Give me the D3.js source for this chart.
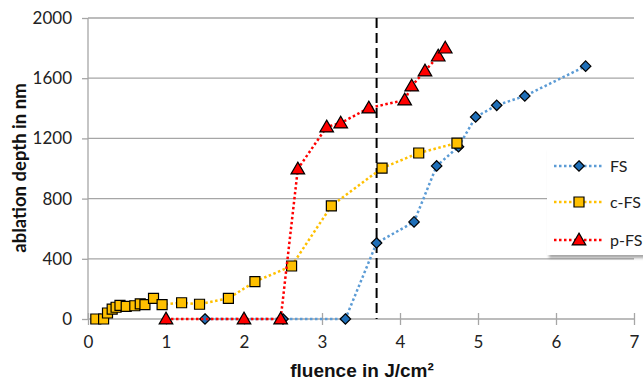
<!DOCTYPE html>
<html>
<head>
<meta charset="utf-8">
<script src="https://cdn.jsdelivr.net/npm/d3@7"></script>
<style>
  body { margin: 0; background: #fff; }
  svg { display: block; }
  .tick text { font-family: Lato, "Open Sans", sans-serif; font-size: 17px; fill: #222; }
  .x-title { font-family: "Liberation Sans", Arial, sans-serif; font-weight: bold; font-size: 19px; fill: #111; }
  .y-title { font-family: Lato, "Open Sans", sans-serif; font-weight: bold; font-size: 18.5px; fill: #111; }
  .legend text { font-family: Lato, "Open Sans", sans-serif; font-size: 16px; fill: #222; }
</style>
</head>
<body>
<div id="chart"></div>
<script>
// FS
const fsX = [1.5, 2.5, 3.3, 3.7, 4.18, 4.47, 4.75, 4.97, 5.24, 5.6, 6.38];
const fsY = [0, 0, 0, 505, 645, 1017, 1145, 1342, 1420, 1482, 1680];
// c-FS
const cfsX = [0.1, 0.2, 0.25, 0.31, 0.36, 0.41, 0.49, 0.6, 0.67, 0.73, 0.84, 0.95, 1.2, 1.43, 1.8, 2.14, 2.61, 3.12, 3.77, 4.24, 4.73];
const cfsY = [0, 0, 40, 66, 78, 91, 84, 88, 101, 95, 137, 95, 108, 98, 137, 248, 352, 751, 1003, 1103, 1169];
// p-FS
const pfsX = [1.0, 2.0, 2.47, 2.69, 3.06, 3.24, 3.6, 4.06, 4.15, 4.32, 4.49, 4.58];
const pfsY = [0, 0, 0, 997, 1276, 1302, 1402, 1455, 1548, 1648, 1747, 1800];

const xTicks = [0, 1, 2, 3, 4, 5, 6, 7];
const yTicks = [0, 400, 800, 1200, 1600, 2000];
const thresholdX = 3.7;

const seriesList = [
  { name: 'FS', xs: fsX, ys: fsY, line: '#5b9bd5', fill: '#1f6fb8', shape: 'diamond' },
  { name: 'c-FS', xs: cfsX, ys: cfsY, line: '#ffc000', fill: '#ffc000', shape: 'square' },
  { name: 'p-FS', xs: pfsX, ys: pfsY, line: '#ff0000', fill: '#ff0000', shape: 'triangle' }
];

const width = 643, height = 383;
const margin = { left: 88, right: 9, top: 18, bottom: 64 };

const svg = d3.select('#chart').append('svg')
  .attr('width', width)
  .attr('height', height);

const x = d3.scaleLinear().domain([0, 7]).range([margin.left, width - margin.right]);
const y = d3.scaleLinear().domain([0, 2000]).range([height - margin.bottom, margin.top]);

// gridlines
svg.append('g')
  .selectAll('line')
  .data(yTicks.filter(d => d > 0))
  .join('line')
  .attr('x1', x(0)).attr('x2', x(7))
  .attr('y1', d => y(d)).attr('y2', d => y(d))
  .attr('stroke', '#a6a6a6').attr('stroke-width', 1.3);

// y axis
const yAxis = svg.append('g')
  .attr('transform', `translate(${x(0)},0)`)
  .call(d3.axisLeft(y).tickValues(yTicks).tickFormat(d3.format('d')).tickSize(6).tickPadding(10));
yAxis.selectAll('line, path').attr('stroke', '#a6a6a6').attr('stroke-width', 1.3);
yAxis.select('.domain').attr('d', `M0,${y(0)}V${y(2000)}`);

// x axis
const xAxis = svg.append('g')
  .attr('transform', `translate(0,${y(0)})`)
  .call(d3.axisBottom(x).tickValues(xTicks).tickFormat(d3.format('d')).tickSize(6).tickPadding(11));
xAxis.selectAll('line, path').attr('stroke', '#a6a6a6').attr('stroke-width', 1.3);
xAxis.select('.domain').attr('d', `M${x(0)},0H${x(7)}`);
xAxis.selectAll('.tick line').attr('y1', -6);

// axis titles
svg.append('text')
  .attr('class', 'x-title')
  .attr('x', 362).attr('y', 377)
  .attr('text-anchor', 'middle')
  .text('fluence in J/cm²');

svg.append('text')
  .attr('class', 'y-title')
  .attr('transform', 'translate(26,168) rotate(-90)')
  .attr('text-anchor', 'middle')
  .text('ablation depth in nm');

// threshold line
svg.append('line')
  .attr('x1', x(thresholdX)).attr('x2', x(thresholdX))
  .attr('y1', y(2000)).attr('y2', y(0))
  .attr('stroke', '#000').attr('stroke-width', 2)
  .attr('stroke-dasharray', '10,5');

const symbolFor = shape => {
  if (shape === 'diamond') return d3.symbol().type(d3.symbolDiamond2).size(70)();
  if (shape === 'square') return d3.symbol().type(d3.symbolSquare).size(100)();
  return d3.symbol().type(d3.symbolTriangle).size(80)();
};

const lineGen = d3.line().x(d => x(d[0])).y(d => y(d[1]));

seriesList.forEach(s => {
  const pts = s.xs.map((v, i) => [v, s.ys[i]]);
  const g = svg.append('g');
  g.append('path')
    .datum(pts)
    .attr('d', lineGen)
    .attr('fill', 'none')
    .attr('stroke', s.line)
    .attr('stroke-width', 2.5)
    .attr('stroke-dasharray', '2.5,2.5');
  g.selectAll('path.marker')
    .data(pts)
    .join('path')
    .attr('class', 'marker')
    .attr('transform', d => `translate(${x(d[0])},${y(d[1]) + (s.shape === 'triangle' ? 1 : 0)})`)
    .attr('d', symbolFor(s.shape))
    .attr('fill', s.fill)
    .attr('stroke', '#000')
    .attr('stroke-width', 1.2);
});

// legend
const defs = svg.append('defs');
const filt = defs.append('filter').attr('id', 'shadow').attr('x', '-10%').attr('y', '-10%').attr('width', '130%').attr('height', '130%');
filt.append('feDropShadow').attr('dx', 2).attr('dy', 3).attr('stdDeviation', 1.5).attr('flood-color', '#000').attr('flood-opacity', 0.35);

const legend = svg.append('g').attr('class', 'legend');
legend.append('rect')
  .attr('x', 547).attr('y', 148).attr('width', 100).attr('height', 107)
  .attr('fill', '#fff')
  .attr('filter', 'url(#shadow)');

const legendY = [166, 202, 240];
seriesList.forEach((s, i) => {
  const ly = legendY[i];
  legend.append('line')
    .attr('x1', 554).attr('x2', 602)
    .attr('y1', ly).attr('y2', ly)
    .attr('stroke', s.line).attr('stroke-width', 2.5)
    .attr('stroke-dasharray', '2.5,2.5');
  legend.append('path')
    .attr('transform', `translate(579,${ly + (s.shape === 'triangle' ? 1 : 0)})`)
    .attr('d', symbolFor(s.shape))
    .attr('fill', s.fill)
    .attr('stroke', '#000')
    .attr('stroke-width', 1.2);
  legend.append('text')
    .attr('x', 610).attr('y', ly + 6)
    .text(s.name);
});
</script>
</body>
</html>
